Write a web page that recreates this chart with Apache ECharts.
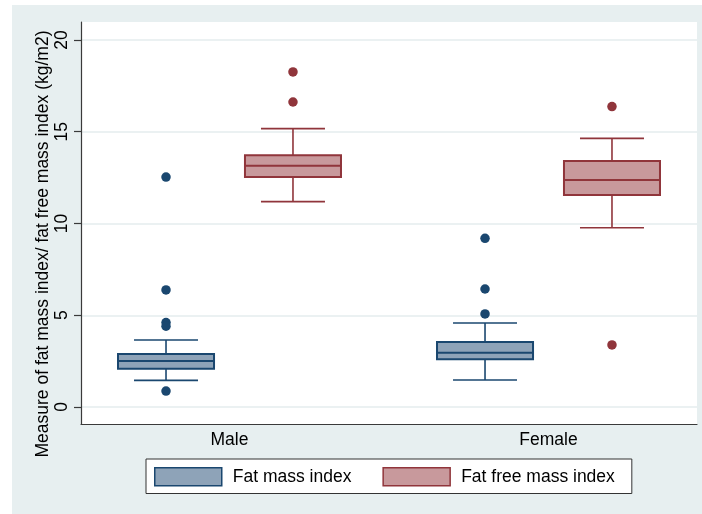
<!DOCTYPE html>
<html><head><meta charset="utf-8">
<script src="https://cdn.jsdelivr.net/npm/echarts@6/dist/echarts.min.js"></script>
<style>html,body{margin:0;padding:0;background:#fff}#c{width:702px;height:514px}</style>
</head><body><div id="c"></div>
<script>
const categories = ['Male', 'Female'];
const seriesNames = ['Fat mass index', 'Fat free mass index'];
// [lower whisker, Q1, median, Q3, upper whisker] per category
const fmiBox = [[1.45, 2.09, 2.51, 2.89, 3.65], [1.47, 2.60, 2.96, 3.54, 4.58]];
const ffmiBox = [[11.19, 12.53, 13.15, 13.72, 15.17], [9.77, 11.55, 12.37, 13.41, 14.64]];
const fmiOutliers = [[12.53, 6.38, 4.6, 4.4, 0.87], [9.19, 6.43, 5.07]];
const ffmiOutliers = [[18.26, 16.62], [16.37, 3.38]];
const yTicks = [0, 5, 10, 15, 20];

const FONT = '"Liberation Sans", Arial, Helvetica, sans-serif';
const BLUE = '#1a476f', BLUE_FILL = '#8ea3b8';
const RED = '#90353b', RED_FILL = '#c8999c';
const OFF = 0.199, HW = 0.1505, CW = 0.1003;

function boxRender(offset, stroke, fill) {
  return function (params, api) {
    const x = api.value(0) + offset;
    const lo = api.value(1), q1 = api.value(2), med = api.value(3), q3 = api.value(4), hi = api.value(5);
    const p = (xx, v) => api.coord([xx, v]);
    const ln = (a, b, w) => ({ type: 'line', shape: { x1: a[0], y1: a[1], x2: b[0], y2: b[1] }, style: { stroke: stroke, lineWidth: w } });
    const tl = p(x - HW, q3), br = p(x + HW, q1);
    return {
      type: 'group', children: [
        ln(p(x, hi), p(x, q3), 1.6),
        ln(p(x, q1), p(x, lo), 1.6),
        ln(p(x - CW, hi), p(x + CW, hi), 1.6),
        ln(p(x - CW, lo), p(x + CW, lo), 1.6),
        { type: 'rect', shape: { x: tl[0], y: tl[1], width: br[0] - tl[0], height: br[1] - tl[1] }, style: { fill: fill, stroke: stroke, lineWidth: 2 } },
        ln(p(x - HW, med), p(x + HW, med), 2)
      ]
    };
  };
}

const boxData = (arr) => categories.map((c, i) => [i + 1].concat(arr[i]));
const outData = (arr, off) => arr.flatMap((vals, i) => vals.map(v => [i + 1 + off, v]));

const chart = echarts.init(document.getElementById('c'), null, { renderer: 'canvas' });
chart.setOption({
  animation: false,
  textStyle: { fontFamily: FONT },
  graphic: [
    { type: 'rect', z: -100, silent: true, shape: { x: 12, y: 5, width: 690, height: 509 }, style: { fill: '#e7eff0' } },
    { type: 'text', x: 43, y: 244, rotation: Math.PI / 2, style: { text: 'Measure of fat mass index/ fat free mass index (kg/m2)', font: '17.5px ' + FONT, fill: '#000', align: 'center', verticalAlign: 'middle' } }
  ],
  grid: { left: 81, right: 5, top: 22, bottom: 90, show: true, backgroundColor: '#fff', borderWidth: 0 },
  xAxis: {
    type: 'value', min: 0.5345, max: 2.4655,
    axisLine: { show: true, onZero: false, lineStyle: { color: '#3a3a3a', width: 1.2 } },
    axisTick: { show: false },
    splitLine: { show: false },
    axisLabel: { customValues: [1, 2], formatter: v => categories[Math.round(v) - 1] || '', fontSize: 17.5, color: '#000', margin: 7, fontFamily: FONT }
  },
  yAxis: {
    type: 'value', min: -0.926, max: 20.98,
    axisLine: { show: true, lineStyle: { color: '#3a3a3a', width: 1.2 } },
    axisTick: { show: true, customValues: yTicks, length: 7, lineStyle: { color: '#3a3a3a', width: 1.2 } },
    axisLabel: { customValues: yTicks, rotate: 90, fontSize: 17.5, color: '#000', margin: 10, fontFamily: FONT },
    splitLine: { show: true, lineStyle: { color: '#e4ecee', width: 1.5 } }
  },
  legend: {
    left: 146, top: 459, orient: 'horizontal',
    backgroundColor: '#fff', borderColor: '#333', borderWidth: 1, borderRadius: 0,
    padding: [8, 17, 7, 8], itemWidth: 67, itemHeight: 18, itemGap: 31, icon: 'rect',
    textStyle: { fontSize: 17.5, color: '#000', fontFamily: FONT, padding: [0, 0, 0, 6], lineHeight: 18 },
    data: [
      { name: seriesNames[0], itemStyle: { color: BLUE_FILL, borderColor: BLUE, borderWidth: 1.5 } },
      { name: seriesNames[1], itemStyle: { color: RED_FILL, borderColor: RED, borderWidth: 1.5 } }
    ]
  },
  series: [
    { name: seriesNames[0], type: 'custom', renderItem: boxRender(-OFF, BLUE, BLUE_FILL), data: boxData(fmiBox), encode: { x: 0, y: [1, 2, 3, 4, 5] }, itemStyle: { color: BLUE_FILL, borderColor: BLUE } },
    { name: seriesNames[1], type: 'custom', renderItem: boxRender(OFF, RED, RED_FILL), data: boxData(ffmiBox), encode: { x: 0, y: [1, 2, 3, 4, 5] }, itemStyle: { color: RED_FILL, borderColor: RED } },
    { name: 'FMI outliers', type: 'scatter', symbol: 'circle', symbolSize: 9.5, data: outData(fmiOutliers, -OFF), itemStyle: { color: BLUE, opacity: 1 } },
    { name: 'FFMI outliers', type: 'scatter', symbol: 'circle', symbolSize: 9.5, data: outData(ffmiOutliers, OFF), itemStyle: { color: RED, opacity: 1 } }
  ]
});
</script></body></html>
